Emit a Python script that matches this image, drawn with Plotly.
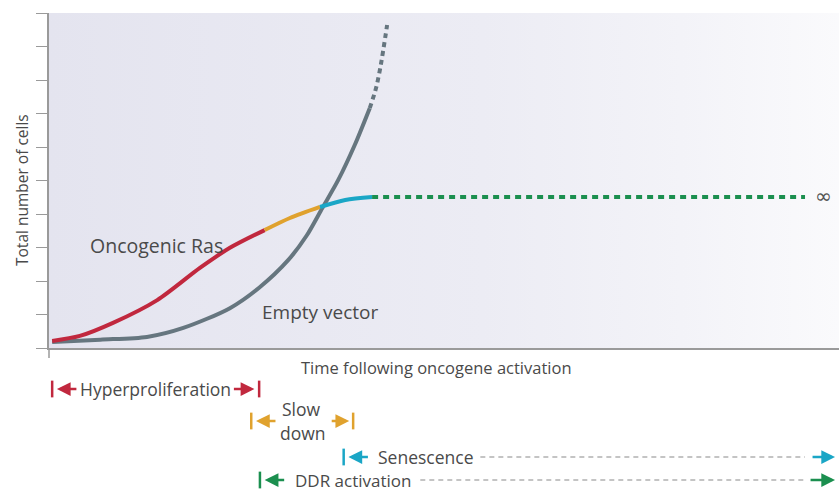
import plotly.graph_objects as go

# ---------------- data ----------------
# time axis 0..10, cell-count axis 0..10 (arbitrary units)
ras_red_x = [0.04, 0.39, 0.81, 1.37, 1.91, 2.29, 2.73]
ras_red_y = [0.21, 0.36, 0.75, 1.43, 2.39, 2.99, 3.52]
ras_orange_x = [2.73, 3.05, 3.43]
ras_orange_y = [3.52, 3.88, 4.21]
ras_cyan_x = [3.43, 3.75, 4.09]
ras_cyan_y = [4.21, 4.42, 4.51]
ras_plateau_x = [4.09, 9.57]
ras_plateau_y = [4.51, 4.51]

ev_x = [0.04, 0.65, 1.24, 1.70, 2.29, 2.66, 3.03, 3.26, 3.46, 3.66, 3.87, 4.06]
ev_y = [0.18, 0.25, 0.33, 0.60, 1.19, 1.80, 2.63, 3.35, 4.18, 5.01, 6.06, 7.16]
ev_dotted_x = [4.06, 4.14, 4.20, 4.28]
ev_dotted_y = [7.16, 7.76, 8.45, 9.64]

y_ticks = list(range(0, 11))
x_range = [0, 10]
y_range = [0, 10]

# phase boundaries on the time axis
hyper_start, hyper_end = 0.04, 2.66
slow_start, slow_end = 2.56, 3.85
sen_start = 3.73
ddr_start = 2.67
phase_end = 9.57

RED = "#c1283e"
ORANGE = "#e0a22e"
CYAN = "#1aa6c6"
GREEN = "#1b8f4f"
GRAY = "#66767f"
TXT = "#4a4a4a"
FONT = "Open Sans"

fig = go.Figure()

# background gradient of the plot area
fig.add_trace(go.Scatter(
    x=[x_range[0], x_range[1], x_range[1], x_range[0], x_range[0]],
    y=[y_range[0], y_range[0], y_range[1], y_range[1], y_range[0]],
    mode="lines", line=dict(width=0), fill="toself",
    fillgradient=dict(type="horizontal",
                      colorscale=[[0, "#e4e4ef"], [0.55, "#ececf4"], [0.8, "#f3f3f8"], [1, "#fafafc"]]),
    hoverinfo="skip", showlegend=False))

def line(x, y, color, dash="solid", shape="spline"):
    fig.add_trace(go.Scatter(x=x, y=y, mode="lines",
                             line=dict(color=color, width=4, dash=dash, shape=shape, smoothing=0.8),
                             hoverinfo="skip", showlegend=False))

line(ev_x, ev_y, GRAY)
line(ev_dotted_x, ev_dotted_y, GRAY, dash="5px,4px")
line(ras_red_x, ras_red_y, RED)
line(ras_orange_x, ras_orange_y, ORANGE)
line(ras_cyan_x, ras_cyan_y, CYAN)
line(ras_plateau_x, ras_plateau_y, GREEN, dash="6px,5px", shape="linear")

ann = []
shapes = []

def py(p):  # pixel row -> paper y (plot area rows 13..348)
    return (348 - p) / 335.0

def pxp(p):  # pixel column -> paper x (plot area columns 49..839)
    return (p - 49) / 790.0

def text(x, y, s, size=17.5, xanchor="center", xref="x", yref="paper", color=TXT, angle=0, family=FONT):
    ann.append(dict(x=x, y=y, xref=xref, yref=yref, text=s, showarrow=False,
                    xanchor=xanchor, yanchor="middle", textangle=angle,
                    font=dict(family=family, size=size, color=color)))

def bar(x, yc, color):
    shapes.append(dict(type="line", xref="x", yref="paper", x0=x, x1=x,
                       y0=yc - 0.025, y1=yc + 0.025, line=dict(color=color, width=2.5)))

def arrow(xhead, yc, dx, color):
    ann.append(dict(x=xhead, y=yc, xref="x", yref="paper", ax=dx, ay=0,
                    axref="pixel", ayref="pixel", showarrow=True, text="",
                    arrowhead=2, arrowsize=1.1, arrowwidth=2.5, arrowcolor=color))

def dashed(x0, x1, yc):
    shapes.append(dict(type="line", xref="x", yref="paper", x0=x0, x1=x1, y0=yc, y1=yc,
                       line=dict(color="#8a8a8a", width=1.2, dash="5px,4px")))

# curve labels
text(1.36, 3.05, "Oncogenic Ras", size=19.5, yref="y")
text(3.43, 1.07, "Empty vector", size=19, yref="y")
text(9.80, 4.55, "∞", size=20, yref="y", color="#555", family="DejaVu Sans")

# axis titles
text(pxp(436), py(367), "Time following oncogene activation", size=16.5, xref="paper")
text(pxp(22), py(190), "Total number of cells", size=15.5, xref="paper", angle=-90)

# Hyperproliferation
yh = py(389)
bar(hyper_start, yh, RED)
arrow(hyper_start + 0.06, yh, 21, RED)
text(0.37, yh, "Hyperproliferation", xanchor="left")
arrow(hyper_end - 0.06, yh, -22, RED)
bar(hyper_end, yh, RED)

# Slow down
ys = py(421)
bar(slow_start, ys, ORANGE)
arrow(slow_start + 0.06, ys, 21, ORANGE)
text(3.19, py(409), "Slow")
text(3.21, py(433), "down")
arrow(slow_end - 0.05, ys, -19, ORANGE)
bar(slow_end, ys, ORANGE)

# Senescence
yn = py(457)
bar(sen_start, yn, CYAN)
arrow(sen_start + 0.06, yn, 21, CYAN)
text(4.14, yn, "Senescence", xanchor="left")
dashed(5.46, phase_end, yn)
arrow(9.95, yn, -24, CYAN)

# DDR activation
yd = py(480)
bar(ddr_start, yd, GREEN)
arrow(ddr_start + 0.06, yd, 21, GREEN)
text(3.09, yd, "DDR activation", xanchor="left", size=17)
dashed(4.70, phase_end, yd)
arrow(9.95, yd, -26, GREEN)

# axis extensions
shapes.append(dict(type="line", xref="paper", yref="paper", x0=0, x1=0, y0=0, y1=-0.03,
                   line=dict(color="#9a9a9a", width=1.5)))

fig.update_layout(
    width=839, height=491,
    margin=dict(l=49, r=0, t=13, b=143),
    paper_bgcolor="white", plot_bgcolor="white",
    annotations=ann, shapes=shapes,
    xaxis=dict(range=x_range, showgrid=False, zeroline=False, showline=True,
               linecolor="#9a9a9a", linewidth=1.5, ticks="", showticklabels=False, fixedrange=True),
    yaxis=dict(range=y_range, showgrid=False, zeroline=False, showline=True,
               linecolor="#9a9a9a", linewidth=1.5, ticks="outside", ticklen=11,
               tickcolor="#9a9a9a", tickwidth=1.2, tickvals=y_ticks,
               showticklabels=False, fixedrange=True),
    showlegend=False,
)

fig.write_html("out.html", config={"displayModeBar": False},
               post_script="document.body.style.margin='0';document.body.style.overflow='hidden';")
